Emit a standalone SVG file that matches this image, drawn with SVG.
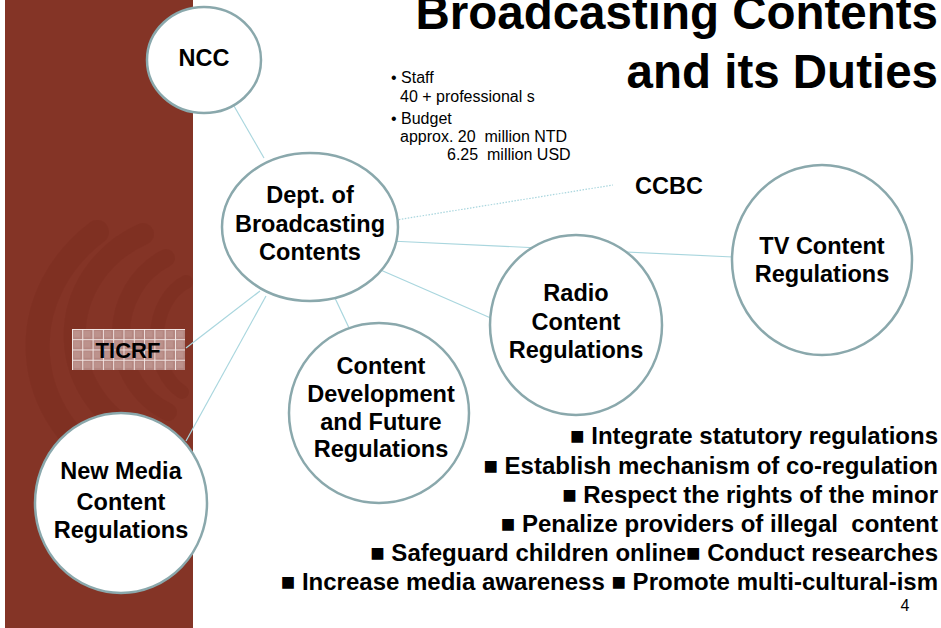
<svg xmlns="http://www.w3.org/2000/svg" width="941" height="628" viewBox="0 0 941 628">
  <defs>
    <style>
      .node { fill: #ffffff; stroke: #8aa8ac; stroke-width: 2.5; }
      .lbl { font-family: "Liberation Sans", Arial, sans-serif; font-weight: bold; font-size: 23.5px; fill: #000000; text-anchor: middle; }
      .link { stroke: #a9d6de; stroke-width: 1.2; fill: none; }
      .dotted { stroke-dasharray: 1.5 1.5; }
      .wave { fill: none; stroke: #6a1c14; stroke-opacity: 0.16; stroke-linecap: round; }
      .title { font-family: "Liberation Sans", Arial, sans-serif; font-weight: bold; font-size: 47.5px; fill: #000000; text-anchor: end; }
      .duty { font-family: "Liberation Sans", Arial, sans-serif; font-weight: bold; font-size: 24px; fill: #000000; text-anchor: end; }
      .note { font-family: "Liberation Sans", Arial, sans-serif; font-size: 16px; fill: #000000; }
    </style>
    <pattern id="grid" x="72" y="329" width="10.3" height="10.25" patternUnits="userSpaceOnUse">
      <rect width="10.3" height="10.25" fill="#b48680"/>
      <rect x="2" y="2" width="6.3" height="6.25" fill="#c29a95" opacity="0.6"/>
      <path d="M0 0.5 H10.3 M0.5 0 V10.25" stroke="#f2e6e4" stroke-width="1"/>
    </pattern>
  </defs>

  <!-- left side band with faint radio-wave arcs -->
  <rect x="5" y="0" width="188" height="628" fill="#843426"/>
  <g id="waves">
    <path class="wave" stroke-width="14" d="M186 282 A45 60 0 0 0 182 392"/>
    <path class="wave" stroke-width="18" d="M166 258 A80 85 0 0 0 168 412"/>
    <path class="wave" stroke-width="22" d="M143 234 A118 112 0 0 0 150 440"/>
    <path class="wave" stroke-width="24" d="M97 232 A170 150 0 0 0 112 470"/>
  </g>

  <!-- title -->
  <text class="title" x="938" y="29">Broadcasting Contents</text>
  <text class="title" x="938" y="88">and its Duties</text>

  <!-- department facts -->
  <g id="facts" class="note">
    <text x="391" y="83">• Staff</text>
    <text x="400" y="102">40 + professional s</text>
    <text x="391" y="124">• Budget</text>
    <text x="400" y="142" xml:space="preserve">approx. 20  million NTD</text>
    <text x="447" y="160" xml:space="preserve">6.25  million USD</text>
  </g>

  <!-- connectors -->
  <g id="connectors">
    <line class="link" x1="234" y1="106" x2="264" y2="158"/>
    <line class="link dotted" x1="390" y1="221" x2="613" y2="185"/>
    <line class="link" x1="390" y1="241" x2="733" y2="257"/>
    <line class="link" x1="376" y1="268" x2="493" y2="319"/>
    <line class="link" x1="334" y1="296" x2="350" y2="330"/>
    <line class="link" x1="260" y1="291" x2="186" y2="348"/>
    <line class="link" x1="266" y1="296" x2="186" y2="441"/>
  </g>

  <!-- nodes -->
  <g id="ncc">
    <ellipse class="node" cx="204" cy="60" rx="57" ry="53"/>
    <text class="lbl" x="204" y="66">NCC</text>
  </g>

  <g id="dept">
    <ellipse class="node" cx="310" cy="227" rx="88" ry="74"/>
    <text class="lbl" x="310" y="203">Dept. of</text>
    <text class="lbl" x="310" y="232">Broadcasting</text>
    <text class="lbl" x="310" y="260">Contents</text>
  </g>

  <g id="ccbc">
    <text class="lbl" x="669" y="194">CCBC</text>
  </g>

  <g id="tv">
    <ellipse class="node" cx="822" cy="260" rx="90" ry="95"/>
    <text class="lbl" x="822" y="254">TV Content</text>
    <text class="lbl" x="822" y="282">Regulations</text>
  </g>

  <g id="radio">
    <ellipse class="node" cx="576" cy="325" rx="86" ry="90"/>
    <text class="lbl" x="576" y="301">Radio</text>
    <text class="lbl" x="576" y="330">Content</text>
    <text class="lbl" x="576" y="358">Regulations</text>
  </g>

  <g id="development">
    <ellipse class="node" cx="379" cy="413" rx="90" ry="90"/>
    <text class="lbl" x="381" y="374">Content</text>
    <text class="lbl" x="381" y="402">Development</text>
    <text class="lbl" x="381" y="430">and Future</text>
    <text class="lbl" x="381" y="457">Regulations</text>
  </g>

  <g id="ticrf">
    <rect x="72" y="329" width="113" height="41" fill="url(#grid)"/>
    <text class="lbl" x="128" y="358" style="font-size:22px">TICRF</text>
  </g>

  <g id="newmedia">
    <ellipse class="node" cx="121" cy="503" rx="86" ry="90"/>
    <text class="lbl" x="121" y="479">New Media</text>
    <text class="lbl" x="121" y="510">Content</text>
    <text class="lbl" x="121" y="538">Regulations</text>
  </g>

  <!-- duties -->
  <g id="duties" class="duty">
    <text x="938" y="444">■ Integrate statutory regulations</text>
    <text x="938" y="474">■ Establish mechanism of co-regulation</text>
    <text x="938" y="503">■ Respect the rights of the minor</text>
    <text x="938" y="532" xml:space="preserve">■ Penalize providers of illegal  content</text>
    <text x="938" y="561">■ Safeguard children online■ Conduct researches</text>
    <text x="938" y="590">■ Increase media awareness ■ Promote multi-cultural-ism</text>
  </g>

  <text x="905" y="611" style="font-family:'Liberation Sans', Arial, sans-serif; font-size:16px; fill:#000; text-anchor:middle">4</text>
</svg>
